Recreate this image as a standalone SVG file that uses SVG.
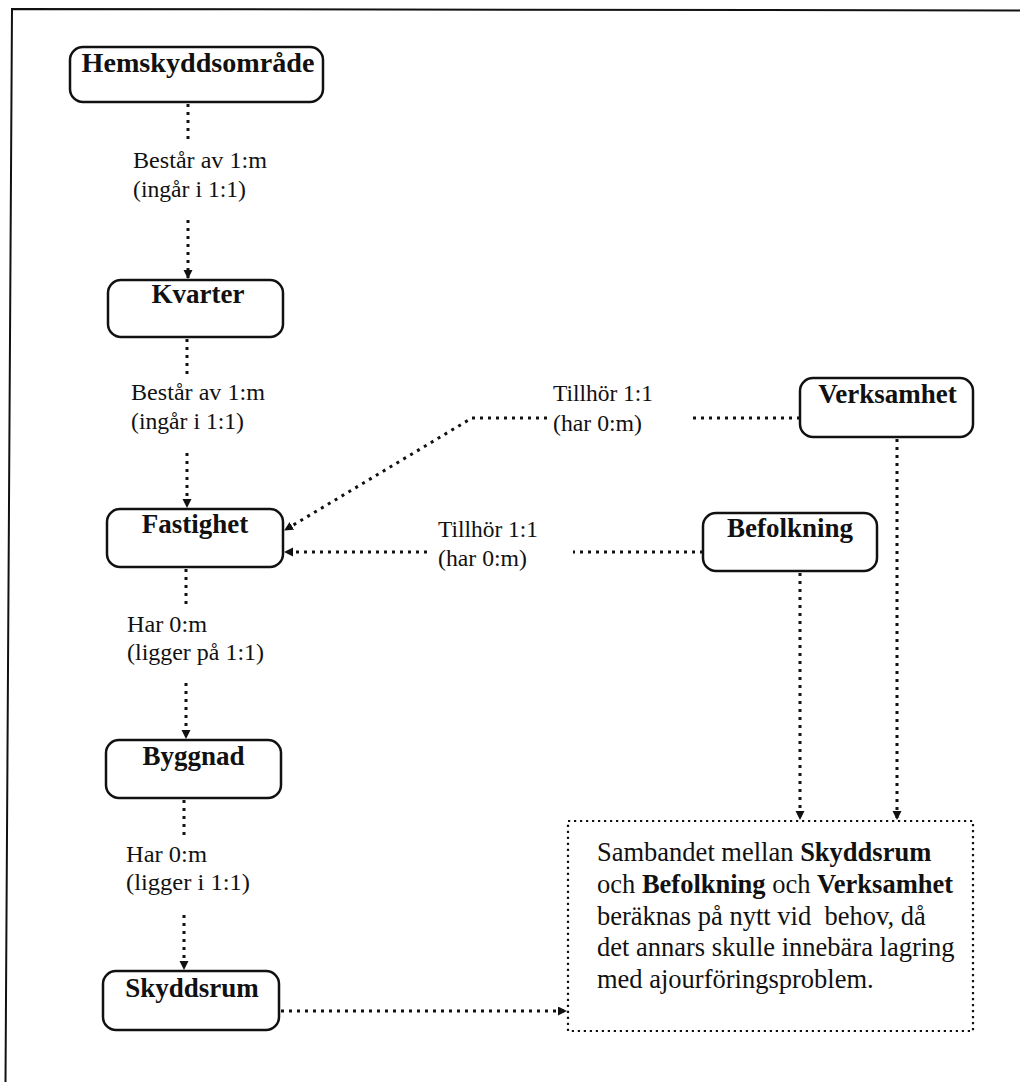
<svg xmlns="http://www.w3.org/2000/svg" width="1020" height="1082" viewBox="0 0 1020 1082">
  <style>
    .frame { fill: none; stroke: #111; stroke-width: 2; }
    .node rect { fill: #fff; stroke: #111; stroke-width: 2.5; }
    .node text { font-family: "Liberation Serif", "Times New Roman", serif; font-weight: bold; font-size: 27px; fill: #111; text-anchor: middle; }
    .conn { fill: none; stroke: #111; stroke-width: 3; stroke-dasharray: 3 5; }
    .lbl { font-family: "Liberation Serif", "Times New Roman", serif; font-size: 23px; fill: #111; }
    .note rect { fill: none; stroke: #111; stroke-width: 2.2; stroke-dasharray: 2.2 3.8; }
    .note text { font-family: "Liberation Serif", "Times New Roman", serif; font-size: 26.5px; fill: #111; }
    .b { font-weight: bold; }
  </style>
  <defs>
    <marker id="arrow" markerUnits="userSpaceOnUse" markerWidth="10" markerHeight="10" refX="8" refY="4.5" orient="auto">
      <path d="M0,0 L9,4.5 L0,9 z" fill="#111"/>
    </marker>
  </defs>

  <rect x="0" y="0" width="1020" height="1082" fill="#fff"/>

  <!-- page frame: top and left edges -->
  <path class="frame" d="M5.5 1082 L12 9 L1020 10.5"/>

  <!-- connectors -->
  <g id="connectors">
    <!-- Hemskyddsområde -> Kvarter -->
    <path class="conn" d="M188 104 V143"/>
    <path class="conn" d="M188 220 V278" marker-end="url(#arrow)"/>
    <!-- Kvarter -> Fastighet -->
    <path class="conn" d="M187 339 V376"/>
    <path class="conn" d="M187 453 V507" marker-end="url(#arrow)"/>
    <!-- Fastighet -> Byggnad -->
    <path class="conn" d="M186 569 V608"/>
    <path class="conn" d="M186 683 V738" marker-end="url(#arrow)"/>
    <!-- Byggnad -> Skyddsrum -->
    <path class="conn" d="M184 800 V838"/>
    <path class="conn" d="M184 915 V969" marker-end="url(#arrow)"/>
    <!-- Skyddsrum -> note -->
    <path class="conn" d="M281 1011 H566" marker-end="url(#arrow)"/>
    <!-- Verksamhet -> Fastighet -->
    <path class="conn" d="M800 418 H692"/>
    <path class="conn" d="M547 418 H472 L285 530" marker-end="url(#arrow)"/>
    <!-- Befolkning -> Fastighet -->
    <path class="conn" d="M703 552 H573"/>
    <path class="conn" d="M427 552 H285" marker-end="url(#arrow)"/>
    <!-- Befolkning -> note -->
    <path class="conn" d="M800 573 V819" marker-end="url(#arrow)"/>
    <!-- Verksamhet -> note -->
    <path class="conn" d="M897 439 V819" marker-end="url(#arrow)"/>
  </g>

  <!-- relation labels -->
  <g id="labels">
    <text class="lbl" x="133" y="168" textLength="134" lengthAdjust="spacingAndGlyphs">Består av 1:m</text>
    <text class="lbl" x="133" y="197" textLength="113" lengthAdjust="spacingAndGlyphs">(ingår i 1:1)</text>
    <text class="lbl" x="131" y="400" textLength="134" lengthAdjust="spacingAndGlyphs">Består av 1:m</text>
    <text class="lbl" x="131" y="429" textLength="113" lengthAdjust="spacingAndGlyphs">(ingår i 1:1)</text>
    <text class="lbl" x="127" y="632" textLength="80" lengthAdjust="spacingAndGlyphs">Har 0:m</text>
    <text class="lbl" x="127" y="660" textLength="137" lengthAdjust="spacingAndGlyphs">(ligger på 1:1)</text>
    <text class="lbl" x="126" y="862" textLength="81" lengthAdjust="spacingAndGlyphs">Har 0:m</text>
    <text class="lbl" x="126" y="890" textLength="124" lengthAdjust="spacingAndGlyphs">(ligger i 1:1)</text>
    <text class="lbl" x="553" y="401" textLength="100" lengthAdjust="spacingAndGlyphs">Tillhör 1:1</text>
    <text class="lbl" x="553" y="431" textLength="89" lengthAdjust="spacingAndGlyphs">(har 0:m)</text>
    <text class="lbl" x="438" y="537" textLength="100" lengthAdjust="spacingAndGlyphs">Tillhör 1:1</text>
    <text class="lbl" x="438" y="566" textLength="89" lengthAdjust="spacingAndGlyphs">(har 0:m)</text>
  </g>

  <!-- entity nodes -->
  <g id="hemskyddsomrade" class="node">
    <rect x="70" y="47" width="253" height="55" rx="13"/>
    <text x="198" y="72" textLength="233" lengthAdjust="spacingAndGlyphs">Hemskyddsområde</text>
  </g>
  <g id="kvarter" class="node">
    <rect x="108" y="280" width="175" height="57" rx="13"/>
    <text x="198" y="303">Kvarter</text>
  </g>
  <g id="fastighet" class="node">
    <rect x="107" y="509" width="176" height="58" rx="13"/>
    <text x="195" y="533">Fastighet</text>
  </g>
  <g id="byggnad" class="node">
    <rect x="106" y="740" width="175" height="58" rx="13"/>
    <text x="193.5" y="765">Byggnad</text>
  </g>
  <g id="skyddsrum" class="node">
    <rect x="103" y="971" width="176" height="59" rx="13"/>
    <text x="192" y="997">Skyddsrum</text>
  </g>
  <g id="verksamhet" class="node">
    <rect x="800" y="378" width="173" height="59" rx="13"/>
    <text x="887.5" y="403">Verksamhet</text>
  </g>
  <g id="befolkning" class="node">
    <rect x="703" y="513" width="174" height="58" rx="13"/>
    <text x="790" y="537">Befolkning</text>
  </g>

  <!-- explanatory note -->
  <g id="note" class="note">
    <rect x="568" y="821" width="405" height="210"/>
    <text x="597" y="861">Sambandet mellan <tspan class="b">Skyddsrum</tspan></text>
    <text x="597" y="893">och <tspan class="b">Befolkning</tspan> och <tspan class="b">Verksamhet</tspan></text>
    <text x="597" y="925" xml:space="preserve">beräknas på nytt vid  behov, då</text>
    <text x="597" y="956">det annars skulle innebära lagring</text>
    <text x="597" y="988">med ajourföringsproblem.</text>
  </g>
</svg>
